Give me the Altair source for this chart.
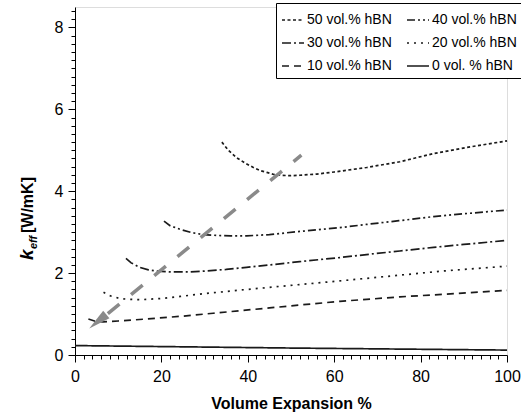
import altair as alt
import pandas as pd

series_names = ["50 vol.% hBN", "40 vol.% hBN", "30 vol.% hBN",
                "20 vol.% hBN", "10 vol.% hBN", "0 vol. % hBN"]

x50 = [34.0, 35.5, 37.4, 39.5, 41.3, 43.0, 44.4, 46.0, 47.5, 50.0, 52.0, 56.0, 60.0, 67.5, 75.2, 83.0, 90.7, 100.0]
y50 = [5.20, 5.00, 4.82, 4.68, 4.58, 4.50, 4.46, 4.41, 4.39, 4.38, 4.39, 4.42, 4.47, 4.58, 4.72, 4.92, 5.07, 5.23]

x40 = [20.6, 22.0, 24.3, 27.0, 29.7, 33.0, 36.0, 39.7, 45.0, 51.3, 61.3, 67.5, 75.0, 83.0, 90.0, 100.0]
y40 = [3.27, 3.16, 3.07, 2.99, 2.94, 2.92, 2.91, 2.91, 2.94, 3.01, 3.11, 3.19, 3.28, 3.38, 3.45, 3.54]

x30 = [11.8, 13.0, 15.0, 17.0, 18.9, 22.0, 26.6, 30.0, 35.0, 39.7, 45.0, 52.0, 61.3, 68.0, 75.2, 83.0, 90.0, 100.0]
y30 = [2.36, 2.25, 2.14, 2.08, 2.05, 2.03, 2.03, 2.05, 2.09, 2.14, 2.20, 2.28, 2.38, 2.46, 2.54, 2.63, 2.70, 2.80]

x20 = [6.6, 8.0, 10.4, 12.5, 15.0, 20.0, 24.3, 30.0, 39.7, 52.0, 61.3, 75.2, 85.0, 100.0]
y20 = [1.53, 1.45, 1.38, 1.36, 1.35, 1.38, 1.43, 1.50, 1.60, 1.72, 1.81, 1.95, 2.05, 2.17]

x10 = [3.1, 4.5, 6.5, 10.0, 16.6, 25.0, 32.0, 45.0, 52.0, 61.3, 75.2, 88.0, 100.0]
y10 = [0.88, 0.83, 0.81, 0.83, 0.88, 0.95, 1.02, 1.15, 1.22, 1.31, 1.42, 1.50, 1.58]

x0 = [0.0, 25.0, 50.0, 75.0, 100.0]
y0 = [0.23, 0.20, 0.17, 0.145, 0.12]

# guide arrow (annotation)
arrow_x = [52.4, 7.6]
arrow_y = [4.88, 1.01]
arrow_tip_x = [3.3]
arrow_tip_y = [0.65]

dash_patterns = {
    "50 vol.% hBN": [3, 2.5],
    "40 vol.% hBN": [8, 3, 2, 3, 2, 3],
    "30 vol.% hBN": [9, 3, 2, 3],
    "20 vol.% hBN": [2, 5],
    "10 vol.% hBN": [7, 5],
    "0 vol. % hBN": [1, 0],
}
# legend fills column by column: rows read 50|40, 30|20, 10|0
legend_order = ["50 vol.% hBN", "30 vol.% hBN", "10 vol.% hBN",
                "40 vol.% hBN", "20 vol.% hBN", "0 vol. % hBN"]

rows = []
for name, xs, ys in zip(series_names, [x50, x40, x30, x20, x10, x0], [y50, y40, y30, y20, y10, y0]):
    for i, (a, b) in enumerate(zip(xs, ys)):
        rows.append({"series": name, "x": a, "y": b, "i": i})
df = pd.DataFrame(rows)

arrow_df = pd.DataFrame({"x": arrow_x, "y": arrow_y})
tip_df = pd.DataFrame({"x": arrow_tip_x, "y": arrow_tip_y})

FONT = "Liberation Sans"

xsc = alt.Scale(domain=[0, 100], nice=False, zero=False)
ysc = alt.Scale(domain=[0, 8.5], nice=False, zero=False)

x_ticks = list(range(0, 101, 2))
y_ticks = [round(i * 0.2, 1) for i in range(43)]

xaxis = alt.Axis(
    values=x_ticks, tickCount=200,
    labelExpr="datum.value % 20 === 0 ? toString(datum.value) : ''",
    tickSize={"condition": {"test": "datum.value % 20 === 0", "value": 7}, "value": 4},
    labelOverlap=False, grid=False,
    title="Volume Expansion %", titleFont=FONT, titleFontSize=16, titleFontWeight="bold",
    titlePadding=11, titleColor="black",
    labelFont=FONT, labelFontSize=16, labelColor="black", labelPadding=6,
    domainColor="black", tickColor="black", labelFlush=False,
)
yaxis = alt.Axis(
    values=y_ticks, tickCount=200,
    labelExpr="datum.value % 2 === 0 ? toString(datum.value) : ''",
    tickSize={"condition": {"test": "datum.value % 2 === 0", "value": 7}, "value": 4},
    labelOverlap=False, grid=False, title=None,
    labelFont=FONT, labelFontSize=16, labelColor="black", labelPadding=5,
    domainColor="black", tickColor="black", labelFlush=False,
)

lines = alt.Chart(df).mark_line(strokeWidth=1.7, color="#1a1a1a", strokeCap="butt").encode(
    x=alt.X("x:Q", scale=xsc, axis=xaxis),
    y=alt.Y("y:Q", scale=ysc, axis=yaxis),
    order="i:Q",
    strokeDash=alt.StrokeDash(
        "series:N",
        scale=alt.Scale(domain=legend_order, range=[dash_patterns[n] for n in legend_order]),
        legend=alt.Legend(
            title=None, orient="none", legendX=201, legendY=-4, columns=2,
            symbolType="stroke", symbolSize=484, symbolStrokeWidth=1.4,
            symbolStrokeColor="#1a1a1a", labelFont=FONT, labelFontSize=14,
            labelColor="black", strokeColor="black", fillColor="white",
            padding=5, rowPadding=4, columnPadding=12, labelOffset=2,
            cornerRadius=0, labelLimit=200,
        ),
    ),
)

arrow_line = alt.Chart(arrow_df).mark_line(
    strokeWidth=3.5, color="#8a8a8a", strokeDash=[15, 15], strokeCap="butt"
).encode(x=alt.X("x:Q", scale=xsc), y=alt.Y("y:Q", scale=ysc))

arrow_head = alt.Chart(tip_df).mark_point(
    shape="M0,0 L0.917,-0.458 L0.633,-0.806 Z", size=1936, filled=True,
    color="#8a8a8a", opacity=1, strokeWidth=0,
).encode(x=alt.X("x:Q", scale=xsc), y=alt.Y("y:Q", scale=ysc))

t_k = alt.Chart(pd.DataFrame({"t": ["k"]})).mark_text(
    angle=270, align="left", baseline="alphabetic", font=FONT, fontSize=19,
    fontWeight="bold", fontStyle="italic", color="black"
).encode(text="t:N", x=alt.value(-42), y=alt.value(253))
t_eff = alt.Chart(pd.DataFrame({"t": ["eff"]})).mark_text(
    angle=270, align="left", baseline="alphabetic", font=FONT, fontSize=11,
    fontWeight="bold", fontStyle="italic", color="black"
).encode(text="t:N", x=alt.value(-38), y=alt.value(242))
t_unit = alt.Chart(pd.DataFrame({"t": ["[W/mK]"]})).mark_text(
    angle=270, align="left", baseline="alphabetic", font=FONT, fontSize=16,
    fontWeight="bold", color="black"
).encode(text="t:N", x=alt.value(-42), y=alt.value(226))

chart = alt.layer(lines, arrow_line, arrow_head, t_k, t_eff, t_unit).properties(
    width=432, height=348,
    autosize=alt.AutoSizeParams(type="none"),
    padding={"left": 75, "top": 7, "right": 14, "bottom": 64},
).configure_view(stroke=None).configure(background="white")

chart.save("out.html", embed_options={"renderer": "svg", "actions": False})
